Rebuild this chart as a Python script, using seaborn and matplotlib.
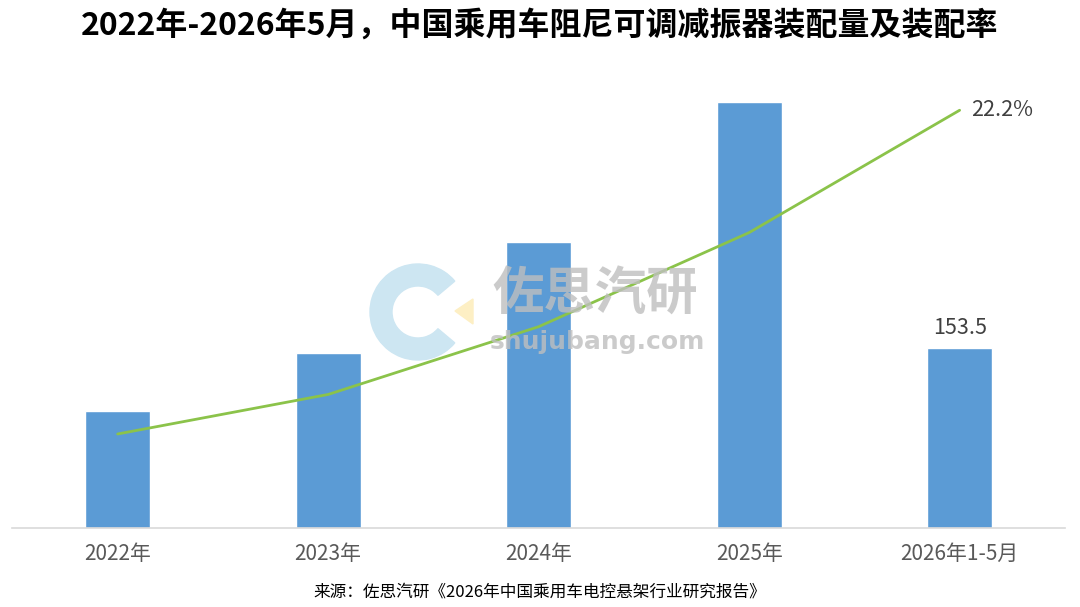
import matplotlib
matplotlib.use("Agg")
import matplotlib.pyplot as plt
from matplotlib.patches import Wedge, Polygon
import seaborn as sns
import pandas as pd

categories = ["2022年", "2023年", "2024年", "2025年", "2026年1-5月"]
volume = [100.0, 149.0, 244.0, 363.0, 153.5]      # 装配量 (万套)
rate = [5.0, 7.1, 10.7, 15.7, 22.2]               # 装配率 (%)

df = pd.DataFrame({"cat": categories, "volume": volume, "rate": rate})

sns.set_theme(style="white")
plt.rcParams["font.family"] = ["Noto Sans CJK SC", "DejaVu Sans"]

fig = plt.figure(figsize=(10.8, 6.07), dpi=100)
ax = fig.add_axes([0.0115, 0.130, 0.9745, 0.738])

sns.barplot(data=df, x="cat", y="volume", color="#5B9BD5", width=0.31,
            saturation=1, ax=ax, zorder=2)
ax.set_xlim(-0.5, 4.5)
ax.set_ylim(0, 382)

ax2 = ax.twinx()
sns.lineplot(x=list(range(len(categories))), y=rate, color="#8BC34A",
             linewidth=2.0, ax=ax2, zorder=3)
ax2.set_ylim(0, 23.8)
ax2.set_xlim(-0.5, 4.5)

for a in (ax, ax2):
    for s in ["top", "right", "left"]:
        a.spines[s].set_visible(False)
    a.set_yticks([])
    a.set_ylabel("")
    a.set_xlabel("")
ax2.spines["bottom"].set_visible(False)
ax.spines["bottom"].set_color("#D9D9D9")
ax.spines["bottom"].set_linewidth(1.2)
ax.tick_params(axis="x", length=0, pad=11, labelsize=15, labelcolor="#595959")
ax2.tick_params(axis="x", length=0, labelbottom=False)

# data labels
ax.text(4, volume[4] + 8, f"{volume[4]:.1f}", ha="center", va="bottom",
        fontsize=15.5, color="#404040")
ax2.text(4 + 0.055, rate[4], f"{rate[4]:.1f}%", ha="left", va="center",
         fontsize=15.5, color="#404040")

# watermark
wm_ax = fig.add_axes([0, 0, 1, 1], facecolor="none")
wm_ax.set_xlim(0, 1080)
wm_ax.set_ylim(607, 0)
wm_ax.axis("off")
wm_ax.add_patch(Wedge((418, 312), 48, 40, 320, width=22, color="#CDE6F2", zorder=0))
wm_ax.add_patch(Polygon([[455, 311], [473, 299], [473, 324]], closed=True,
                        color="#FDEFC4", zorder=0))
wm_ax.text(492, 294, "佐思汽研", fontsize=37, color="#BFBFBF", alpha=0.8,
           ha="left", va="center", fontweight="bold")
wm_ax.text(490, 342, "shujubang.com", fontsize=18, color="#BFBFBF", alpha=0.8,
           ha="left", va="center", fontweight="bold", family=["DejaVu Sans"])

fig.text(0.5, 0.958, "2022年-2026年5月，中国乘用车阻尼可调减振器装配量及装配率",
         ha="center", va="center", fontsize=23, fontweight="bold", color="black")
fig.text(0.5, 0.024, "来源：佐思汽研《2026年中国乘用车电控悬架行业研究报告》",
         ha="center", va="center", fontsize=12, fontweight="medium", color="black")

fig.savefig("out.png", dpi=100)
